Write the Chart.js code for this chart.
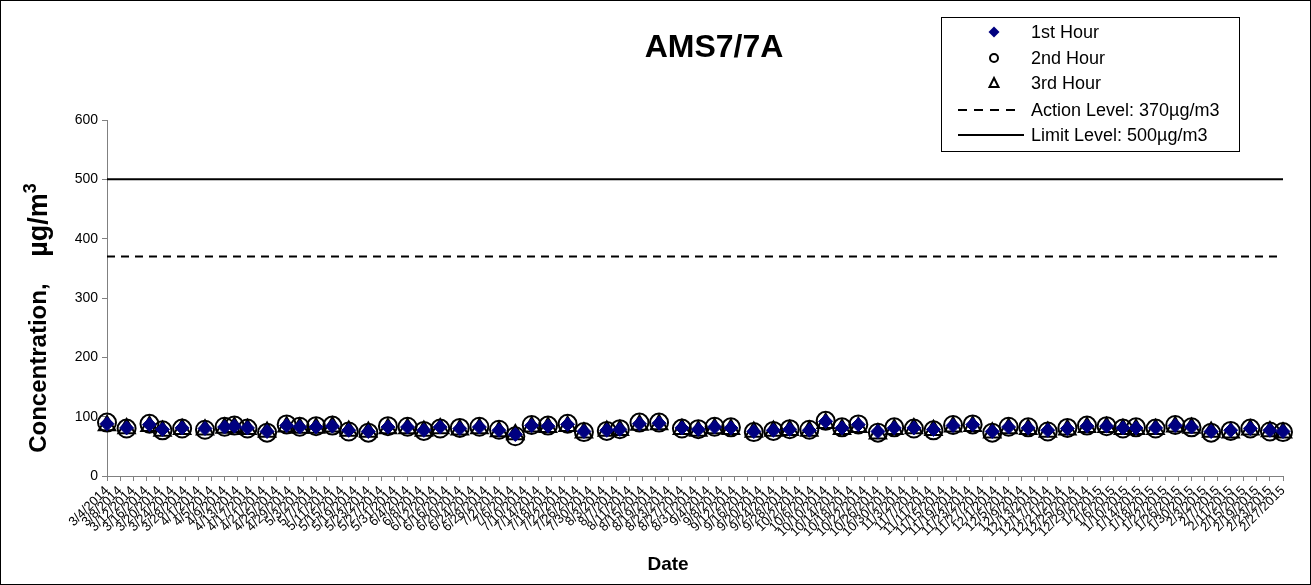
<!DOCTYPE html>
<html><head><meta charset="utf-8">
<script src="https://cdn.jsdelivr.net/npm/chart.js@4.4.1/dist/chart.umd.min.js"></script>
<style>html,body{margin:0;padding:0;background:#fff;}canvas{display:block;}</style>
</head><body>
<canvas id="c" width="1311" height="585"></canvas>
<script>
const FONT = '"Liberation Sans", Arial, sans-serif';
const chartTitle = 'AMS7/7A';
const xTitle = 'Date';
const yTitleA = 'Concentration,    ';
const yTitleB = 'µg/m';
const yTitleSup = '3';
const legendLabels = ['1st Hour', '2nd Hour', '3rd Hour', 'Action Level: 370µg/m3', 'Limit Level: 500µg/m3'];
const actionLevel = 370;
const limitLevel = 500;
const yTicks = [0, 100, 200, 300, 400, 500, 600];

const tickLabels = [
 '3/4/2014','3/8/2014','3/12/2014','3/16/2014','3/20/2014','3/24/2014','3/28/2014',
 '4/1/2014','4/5/2014','4/9/2014','4/13/2014','4/17/2014','4/21/2014','4/25/2014','4/29/2014',
 '5/3/2014','5/7/2014','5/11/2014','5/15/2014','5/19/2014','5/23/2014','5/27/2014','5/31/2014',
 '6/4/2014','6/8/2014','6/12/2014','6/16/2014','6/20/2014','6/24/2014','6/28/2014',
 '7/2/2014','7/6/2014','7/10/2014','7/14/2014','7/18/2014','7/22/2014','7/26/2014','7/30/2014',
 '8/3/2014','8/7/2014','8/11/2014','8/15/2014','8/19/2014','8/23/2014','8/27/2014','8/31/2014',
 '9/4/2014','9/8/2014','9/12/2014','9/16/2014','9/20/2014','9/24/2014','9/28/2014',
 '10/2/2014','10/6/2014','10/10/2014','10/14/2014','10/18/2014','10/22/2014','10/26/2014','10/30/2014',
 '11/3/2014','11/7/2014','11/11/2014','11/15/2014','11/19/2014','11/23/2014','11/27/2014',
 '12/1/2014','12/5/2014','12/9/2014','12/13/2014','12/17/2014','12/21/2014','12/25/2014','12/29/2014',
 '1/2/2015','1/6/2015','1/10/2015','1/14/2015','1/18/2015','1/22/2015','1/26/2015','1/30/2015',
 '2/3/2015','2/7/2015','2/11/2015','2/15/2015','2/19/2015','2/23/2015','2/27/2015'
];

const sampleDates = [
 '3/4/2014','3/10/2014','3/17/2014','3/21/2014','3/27/2014','4/3/2014','4/9/2014','4/12/2014','4/16/2014',
 '4/22/2014','4/28/2014','5/2/2014','5/7/2014','5/12/2014','5/17/2014','5/23/2014','5/29/2014',
 '6/4/2014','6/9/2014','6/14/2014','6/20/2014','6/26/2014','7/2/2014','7/7/2014','7/12/2014',
 '7/17/2014','7/23/2014','7/28/2014','8/4/2014','8/8/2014','8/14/2014','8/20/2014','8/27/2014',
 '9/1/2014','9/6/2014','9/11/2014','9/18/2014','9/24/2014','9/29/2014','10/5/2014','10/10/2014',
 '10/15/2014','10/20/2014','10/26/2014','10/31/2014','11/6/2014','11/12/2014','11/18/2014','11/24/2014',
 '11/30/2014','12/5/2014','12/11/2014','12/17/2014','12/23/2014','12/29/2014','1/4/2015','1/9/2015',
 '1/13/2015','1/19/2015','1/25/2015','1/30/2015','2/5/2015','2/11/2015','2/17/2015','2/23/2015','2/27/2015'
];

const hour1 = [
 88, 81, 86.5, 78.5, 81, 80, 82.5, 84, 81, 75, 85, 82.5, 82.5, 84, 77, 75, 82.5,
 82.5, 77, 82.5, 80, 82.5, 77, 70, 85, 84, 87, 75, 77, 78.5, 88, 89, 81,
 78.5, 82.5, 81, 75, 77, 78.5, 77, 92, 81, 86.5, 75, 81, 81, 78.5, 85, 86.5,
 75, 82.5, 81, 77, 80, 84, 84, 81, 81, 81, 85, 82.5, 75, 77, 80, 77, 75
];
const hour2 = [
 90, 80, 88, 77, 80, 78, 83, 85, 80, 73, 87, 83, 84, 85, 75, 73, 84,
 83, 76, 80, 81, 83, 78, 67, 86, 85, 88, 74, 76, 79, 90, 90, 80,
 79, 83, 82, 74, 76, 79, 78, 93, 82, 87, 73, 82, 80, 77, 86, 87,
 73, 83, 82, 75, 81, 85, 84, 80, 82, 80, 86, 82, 73, 76, 80, 75, 74
];
const hour3 = [
 85, 80, 84, 76, 79, 78, 81, 82, 79, 74, 83, 81, 81, 83, 76, 74, 80,
 80, 76, 80, 78, 80, 75, 70, 83, 82, 84, 73, 76, 77, 86, 87, 79,
 76, 80, 79, 74, 76, 77, 76, 89, 79, 82, 71, 79, 80, 77, 83, 84,
 73, 80, 79, 74, 78, 82, 82, 79, 79, 79, 83, 81, 74, 73, 78, 75, 73
];

function dayOf(s) {
  const [m, d, y] = s.split('/').map(Number);
  const [m0, d0, y0] = tickLabels[0].split('/').map(Number);
  return Math.round((Date.UTC(y, m - 1, d) - Date.UTC(y0, m0 - 1, d0)) / 86400000);
}
const tickDays = tickLabels.map(dayOf);
const xMin = tickDays[0], xMax = tickDays[tickDays.length - 1];
const pts = arr => sampleDates.map((s, i) => ({x: dayOf(s), y: arr[i]}));

const deco = {
  id: 'deco',
  afterDraw(chart) {
    const ctx = chart.ctx;
    ctx.save();
    ctx.strokeStyle = '#000'; ctx.lineWidth = 1;
    ctx.strokeRect(0.5, 0.5, 1310, 584);
    ctx.fillStyle = '#000';
    ctx.textBaseline = 'middle';
    ctx.font = 'bold 32px ' + FONT; ctx.textAlign = 'center';
    ctx.fillText(chartTitle, 714, 48);
    ctx.font = 'bold 19px ' + FONT;
    ctx.fillText(xTitle, 668, 565);
    // y title
    ctx.save();
    ctx.translate(39, 318); ctx.rotate(-Math.PI / 2);
    const fA = 'bold 24px ' + FONT, fB = 'bold 27px ' + FONT, fS = 'bold 18px ' + FONT;
    ctx.font = fA; const wA = ctx.measureText(yTitleA).width;
    ctx.font = fB; const wB = ctx.measureText(yTitleB).width;
    ctx.font = fS; const wS = ctx.measureText(yTitleSup).width;
    let x = -(wA + wB + wS) / 2;
    ctx.textAlign = 'left';
    ctx.font = fA; ctx.fillText(yTitleA, x, 0); x += wA;
    ctx.font = fB; ctx.fillText(yTitleB, x, 1); x += wB;
    ctx.font = fS; ctx.fillText(yTitleSup, x, -8);
    ctx.restore();
    // legend
    const lx = 941.5, ly = 17.5, lw = 298, lh = 134;
    ctx.fillStyle = '#fff'; ctx.fillRect(lx, ly, lw, lh);
    ctx.strokeStyle = '#000'; ctx.lineWidth = 1; ctx.strokeRect(lx, ly, lw, lh);
    const rows = [32, 58, 83, 110, 135];
    const mx = 994;
    ctx.font = '18px ' + FONT; ctx.textAlign = 'left'; ctx.fillStyle = '#000';
    legendLabels.forEach((t, i) => ctx.fillText(t, 1031, rows[i] + 1));
    ctx.fillStyle = '#000080';
    ctx.beginPath(); ctx.moveTo(mx, rows[0] - 5.5); ctx.lineTo(mx + 5.5, rows[0]); ctx.lineTo(mx, rows[0] + 5.5); ctx.lineTo(mx - 5.5, rows[0]); ctx.closePath(); ctx.fill();
    ctx.lineWidth = 2; ctx.strokeStyle = '#000';
    ctx.beginPath(); ctx.arc(mx, rows[1], 4, 0, Math.PI * 2); ctx.stroke();
    ctx.beginPath(); ctx.moveTo(mx, rows[2] - 5); ctx.lineTo(mx + 4.5, rows[2] + 4); ctx.lineTo(mx - 4.5, rows[2] + 4); ctx.closePath(); ctx.stroke();
    ctx.setLineDash([9, 7]);
    ctx.beginPath(); ctx.moveTo(958, rows[3]); ctx.lineTo(1022, rows[3]); ctx.stroke();
    ctx.setLineDash([]);
    ctx.beginPath(); ctx.moveTo(958, rows[4]); ctx.lineTo(1024, rows[4]); ctx.stroke();
    ctx.restore();
  }
};

new Chart(document.getElementById('c'), {
  type: 'scatter',
  data: {
    datasets: [
      {label: legendLabels[0], data: pts(hour1), pointStyle: 'rectRot', pointRadius: 7, pointHoverRadius: 7,
       backgroundColor: '#000080', borderColor: '#000080', borderWidth: 1, order: 1, clip: false},
      {label: legendLabels[1], data: pts(hour2), pointStyle: 'circle', pointRadius: 9, pointHoverRadius: 9,
       backgroundColor: 'rgba(0,0,0,0)', borderColor: '#000', borderWidth: 2, order: 2, clip: false},
      {label: legendLabels[2], data: pts(hour3), pointStyle: 'triangle', pointRadius: 9.5, pointHoverRadius: 9.5,
       backgroundColor: 'rgba(0,0,0,0)', borderColor: '#000', borderWidth: 2, order: 3, clip: false},
      {label: legendLabels[3], type: 'line', data: [{x: xMin, y: actionLevel}, {x: xMax, y: actionLevel}],
       borderColor: '#000', borderWidth: 2, borderDash: [8, 6], pointRadius: 0, fill: false, order: 4},
      {label: legendLabels[4], type: 'line', data: [{x: xMin, y: limitLevel}, {x: xMax, y: limitLevel}],
       borderColor: '#000', borderWidth: 2, pointRadius: 0, fill: false, order: 5}
    ]
  },
  options: {
    responsive: false, animation: false, devicePixelRatio: 1,
    layout: {padding: {top: 120, right: 28, bottom: 0, left: 0}},
    plugins: {legend: {display: false}, title: {display: false}, tooltip: {enabled: false}},
    scales: {
      x: {
        type: 'linear', min: xMin, max: xMax,
        afterBuildTicks: s => { s.ticks = tickDays.map(v => ({value: v})); },
        afterFit: s => { s.height = 109; },
        ticks: {autoSkip: false, maxRotation: 45, minRotation: 45, padding: 2, color: '#000',
          font: {family: FONT, size: 13},
          callback: (v, i) => tickLabels[i]},
        grid: {display: true, drawOnChartArea: false, drawTicks: true, tickLength: 5, color: '#808080'},
        border: {display: true, color: '#808080', width: 1}
      },
      y: {
        min: 0, max: 600,
        afterBuildTicks: s => { s.ticks = yTicks.map(v => ({value: v})); },
        afterFit: s => { s.width = 107; },
        ticks: {color: '#000', padding: 4, font: {family: FONT, size: 14}},
        grid: {display: true, drawOnChartArea: false, drawTicks: true, tickLength: 5, color: '#808080'},
        border: {display: true, color: '#808080', width: 1}
      }
    }
  },
  plugins: [deco]
});
</script>
</body></html>
